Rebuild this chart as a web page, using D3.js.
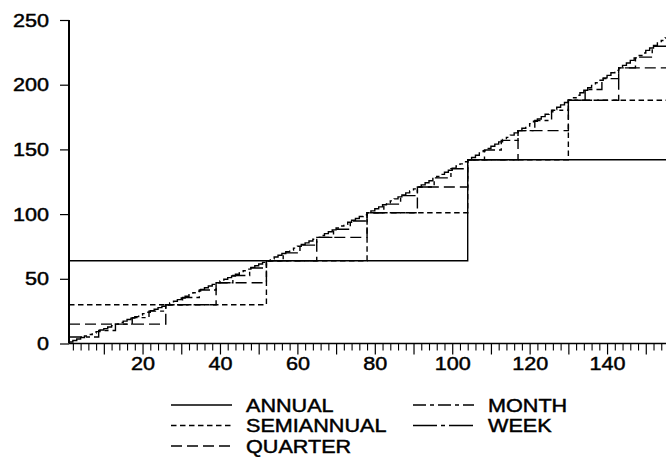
<!DOCTYPE html>
<html><head><meta charset="utf-8">
<script src="https://cdn.jsdelivr.net/npm/d3@7"></script>
<style>
html,body{margin:0;padding:0;background:#fff;}
svg{display:block;}
text{font-family:"Liberation Sans",Arial,sans-serif;fill:#000;stroke:#000;stroke-width:0.45px;}
</style></head>
<body>
<svg id="chart" width="666" height="457"></svg>
<script>
// ---- data ----
const seriesNames = ["ANNUAL","SEMIANNUAL","QUARTER","MONTH","WEEK"];
const periodWeeks = [52, 26, 13, 52/12, 1];
const annual = [64, 64, 142];
const semiannual = [30, 30, 64, 101, 142, 188];
const quarter = [15, 15, 30, 47, 64, 82, 101, 121, 142, 164.5, 188, 213];
const month = [5.0, 5.0, 10.0, 15.0, 20.0, 25.0, 30.0, 35.6, 41.3, 47.0, 52.6, 58.3,
  64.0, 70.0, 76.0, 82.0, 88.3, 94.7, 101.0, 107.7, 114.3, 121.0, 128.0, 135.0,
  142.0, 149.5, 157.0, 164.5, 172.3, 180.2, 188.0, 196.3, 204.7, 213.0, 221.3, 229.7];
const week = [1.2, 1.2, 2.3, 3.5, 4.6, 5.8, 6.9, 8.1, 9.2, 10.4, 11.5, 12.7, 13.8,
  15.0, 16.2, 17.3, 18.5, 19.6, 20.8, 21.9, 23.1, 24.2, 25.4, 26.5, 27.7, 28.8,
  30.0, 31.3, 32.6, 33.9, 35.2, 36.5, 37.8, 39.2, 40.5, 41.8, 43.1, 44.4, 45.7,
  47.0, 48.3, 49.6, 50.9, 52.2, 53.5, 54.8, 56.2, 57.5, 58.8, 60.1, 61.4, 62.7,
  64.0, 65.4, 66.8, 68.2, 69.5, 70.9, 72.3, 73.7, 75.1, 76.5, 77.8, 79.2, 80.6,
  82.0, 83.5, 84.9, 86.4, 87.8, 89.3, 90.8, 92.2, 93.7, 95.2, 96.6, 98.1, 99.5,
  101.0, 102.5, 104.1, 105.6, 107.2, 108.7, 110.2, 111.8, 113.3, 114.8, 116.4, 117.9, 119.5,
  121.0, 122.6, 124.2, 125.8, 127.5, 129.1, 130.7, 132.3, 133.9, 135.5, 137.2, 138.8, 140.4,
  142.0, 143.7, 145.5, 147.2, 148.9, 150.7, 152.4, 154.1, 155.8, 157.6, 159.3, 161.0, 162.8,
  164.5, 166.3, 168.1, 169.9, 171.7, 173.5, 175.3, 177.2, 179.0, 180.8, 182.6, 184.4, 186.2,
  188.0, 189.9, 191.8, 193.8, 195.7, 197.6, 199.5, 201.5, 203.4, 205.3, 207.2, 209.2, 211.1,
  213.0, 214.9, 216.8, 218.8, 220.7, 222.6, 224.5, 226.5, 228.4, 230.3, 232.2, 234.2, 236.1];
const yTicks = [0, 50, 100, 150, 200, 250];
const xLabelTicks = [20, 40, 60, 80, 100, 120, 140];

// ---- styles ----
const dashes = ["none", "5.5,3.5", "11,5", "13,4,4,4", "24,4,4,4"];
const STRETCH = 1.2;

const svg = d3.select("#chart");
svg.append("rect").attr("width",666).attr("height",457).attr("fill","#fff");

const x = d3.scaleLinear().domain([1, 156]).range([69, 669]);
const y = d3.scaleLinear().domain([0, 250]).range([343.5, 20]);

const allSeries = [annual, semiannual, quarter, month, week];

const line = d3.line().x(d => x(d[0])).y(d => y(d[1])).curve(d3.curveStepAfter);

allSeries.forEach((vals, i) => {
  const L = periodWeeks[i];
  const pts = vals.map((v, k) => [Math.max(1, k * L), v]);
  pts.push([156, vals[vals.length - 1]]);
  svg.append("path").datum(pts)
    .attr("d", line)
    .attr("fill", "none")
    .attr("stroke", "#000")
    .attr("stroke-width", 1.4)
    .attr("stroke-dasharray", dashes[i]);
});

// ---- axes ----
const gy = svg.append("g").attr("transform", `translate(${x(1)},0)`)
  .call(d3.axisLeft(y).tickValues(yTicks).tickSize(9).tickSizeOuter(0).tickFormat(d3.format("d")));
gy.select(".domain").attr("stroke-width", 2).attr("d", `M0,${y(250)}V${y(0)}`);
gy.selectAll(".tick line").attr("stroke-width", 1.2);
gy.selectAll(".tick text")
  .attr("x", -20 / STRETCH).attr("dy", null).attr("y", 6)
  .attr("transform", `scale(${STRETCH},1)`)
  .style("font-size", "18px").attr("font-family", null);

const gxMinor = svg.append("g").attr("transform", `translate(0,${y(0)})`)
  .call(d3.axisBottom(x).tickValues(d3.range(2, 157, 2).filter(v => v % 10 !== 0))
    .tickSize(7).tickFormat(""));
gxMinor.select(".domain").remove();
gxMinor.selectAll(".tick line").attr("stroke-width", 1.1);

const gx = svg.append("g").attr("transform", `translate(0,${y(0)})`)
  .call(d3.axisBottom(x).tickValues(d3.range(10, 157, 10)).tickSize(11).tickSizeOuter(0)
    .tickFormat(d => xLabelTicks.includes(d) ? d : ""));
gx.select(".domain").attr("stroke-width", 1.6).attr("d", `M${x(1)},0H666`);
gx.selectAll(".tick line").attr("stroke-width", 1.2);
gx.selectAll(".tick text")
  .attr("y", 26.5).attr("dy", null)
  .attr("transform", `scale(${STRETCH},1)`)
  .style("font-size", "18px").attr("font-family", null);
svg.selectAll(".tick text").attr("fill", "#000");

// ---- legend ----
const legendPos = [
  {lx: 171, ly: 405}, {lx: 171, ly: 425.5}, {lx: 171, ly: 446},
  {lx: 413, ly: 405}, {lx: 413, ly: 425.5}
];
seriesNames.forEach((name, i) => {
  const p = legendPos[i];
  const g = svg.append("g").attr("transform", `translate(${p.lx},${p.ly})`);
  g.append("line").attr("x1", 0).attr("x2", 61).attr("y1", 0).attr("y2", 0)
    .attr("stroke", "#000").attr("stroke-width", 1.4)
    .attr("stroke-dasharray", dashes[i]);
  g.append("text").attr("x", 0).attr("y", 0)
    .attr("transform", `translate(75,6.5) scale(${STRETCH},1)`)
    .style("font-size", "18px")
    .text(name);
});
</script>
</body></html>
